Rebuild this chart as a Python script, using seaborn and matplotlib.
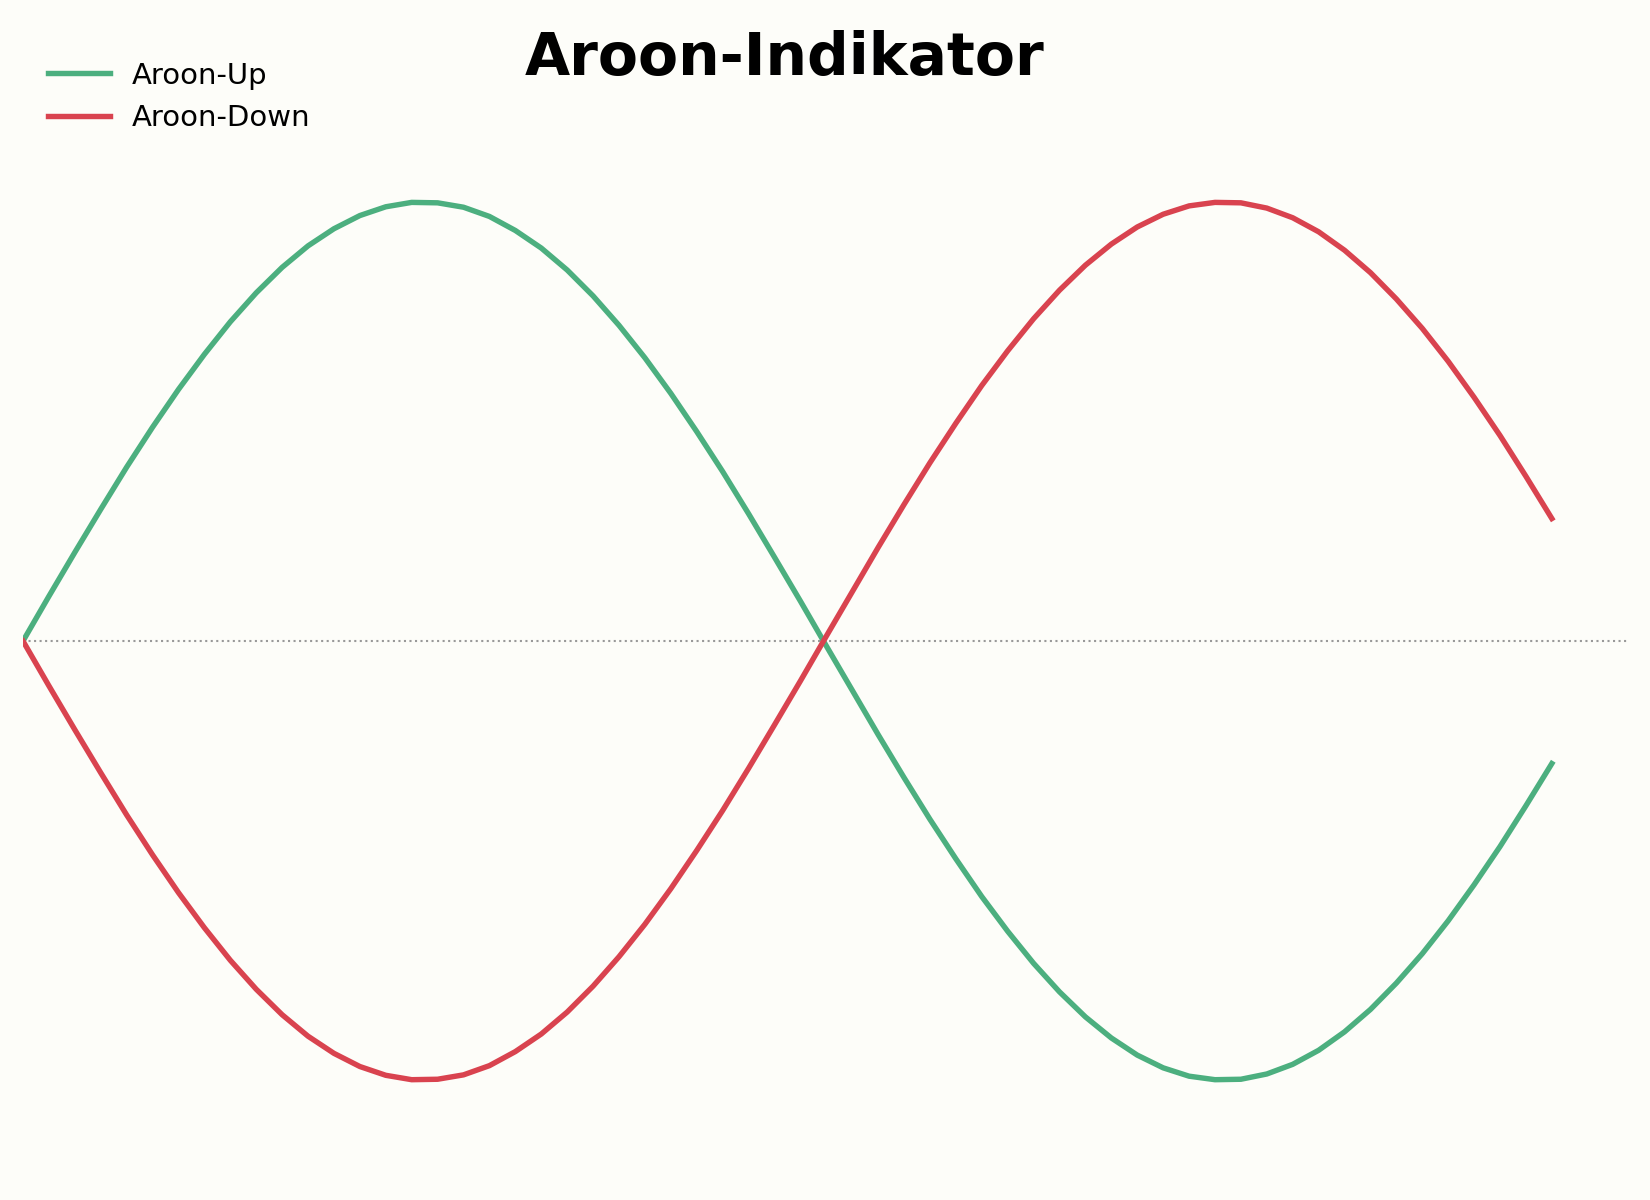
import numpy as np
import pandas as pd
import matplotlib
matplotlib.use("Agg")
import matplotlib.pyplot as plt
import seaborn as sns

# --- данные ---
periode = list(range(60))
aroon_up = [0.000, 0.102, 0.202, 0.300, 0.396, 0.487, 0.573, 0.653, 0.727, 0.793,
            0.851, 0.900, 0.939, 0.969, 0.989, 0.999, 0.998, 0.988, 0.967, 0.935,
            0.895, 0.845, 0.786, 0.719, 0.645, 0.564, 0.477, 0.386, 0.290, 0.191,
            0.091, -0.011, -0.112, -0.213, -0.311, -0.406, -0.496, -0.582, -0.661, -0.734,
            -0.799, -0.856, -0.904, -0.943, -0.972, -0.991, -0.999, -0.998, -0.986, -0.964,
            -0.932, -0.890, -0.839, -0.779, -0.712, -0.637, -0.555, -0.468, -0.375, -0.279]
aroon_down = [-0.000, -0.102, -0.202, -0.300, -0.396, -0.487, -0.573, -0.653, -0.727, -0.793,
              -0.851, -0.900, -0.939, -0.969, -0.989, -0.999, -0.998, -0.988, -0.967, -0.935,
              -0.895, -0.845, -0.786, -0.719, -0.645, -0.564, -0.477, -0.386, -0.290, -0.191,
              -0.091, 0.011, 0.112, 0.213, 0.311, 0.406, 0.496, 0.582, 0.661, 0.734,
              0.799, 0.856, 0.904, 0.943, 0.972, 0.991, 0.999, 0.998, 0.986, 0.964,
              0.932, 0.890, 0.839, 0.779, 0.712, 0.637, 0.555, 0.468, 0.375, 0.279]
serien = ['Aroon-Up', 'Aroon-Down']
farben = ['#4caf7f', '#d9434f']

df = pd.DataFrame({'Periode': periode * 2,
                   'Wert': aroon_up + aroon_down,
                   'Serie': [serien[0]] * len(periode) + [serien[1]] * len(periode)})

# --- стиль ---
sns.set_theme(style="white")
plt.rcParams['font.family'] = ['DejaVu Sans']
plt.rcParams['text.color'] = 'black'
plt.rcParams['lines.solid_capstyle'] = 'projecting'
bg = '#fdfdf9'

fig = plt.figure(figsize=(11, 8), dpi=150, facecolor=bg)
ax = fig.add_axes([23 / 1650, 0.0633, 1604 / 1650, 0.805])
ax.set_facecolor(bg)

sns.lineplot(data=df, x='Periode', y='Wert', hue='Serie', hue_order=serien,
             palette=farben, linewidth=2.6, ax=ax)
ax.axhline(0, color='#999999', linestyle=':', linewidth=1.0, zorder=0)

ax.set_xlim(0, 61.9)
ax.set_ylim(-1.1, 1.1)
ax.axis('off')

leg = ax.legend(loc='upper left', bbox_to_anchor=(36 / 1650, 1 - 50 / 1200),
                bbox_transform=fig.transFigure, borderaxespad=0, frameon=False,
                fontsize=14, labelspacing=0.5, handlelength=2.15, handletextpad=0.75)
for t in leg.get_texts():
    t.set_color('black')

fig.text(785 / 1650, 1 - 75 / 1200, 'Aroon-Indikator', ha='center', va='baseline',
         fontsize=28, fontweight='bold', color='black')

fig.savefig('out.png', dpi=150, facecolor=bg)
